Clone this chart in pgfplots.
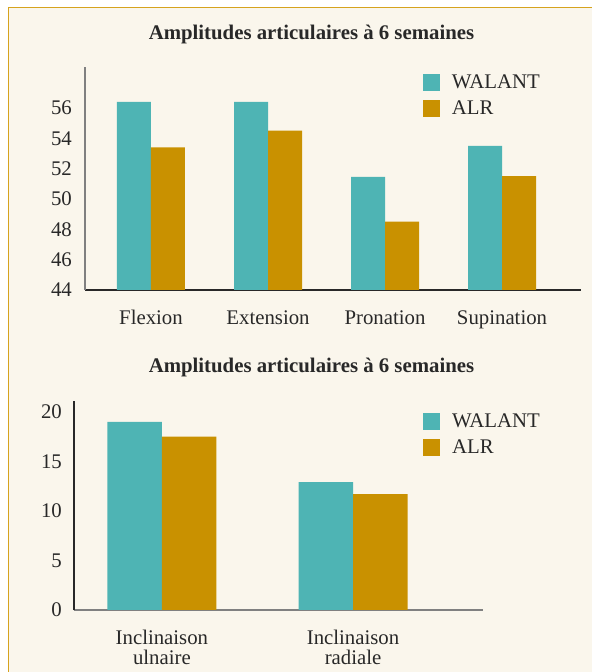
\documentclass[border=0pt]{standalone}
\usepackage{pgfplots}
\pgfplotsset{compat=1.18}
\usepackage{fontspec}
\setmainfont{Liberation Serif}
\definecolor{teal1}{RGB}{78,180,180}
\definecolor{gold1}{RGB}{201,145,0}
\definecolor{cream}{RGB}{250,246,236}
\definecolor{frame}{RGB}{214,163,30}
\definecolor{txt}{RGB}{40,40,40}
\newcommand{\f}{\fontsize{20.8bp}{20bp}\selectfont}
\pgfplotsset{
 sq/.style={legend image code/.code={\fill[##1] (0bp,-8.5bp) rectangle (17bp,8.5bp); \path (29bp,0bp);}},
 mystyle/.style={
  scale only axis,
  axis x line=bottom, axis y line=left,
  axis line style={-},
  ybar=0pt,
  every axis plot post/.append style={sq},
  major tick length=0pt,
  tick style={draw=none},
  xtick=data,
  /pgf/number format/assume math mode=true,
  tick label style={font=\f, text=txt},
  yticklabel style={inner sep=0pt, xshift=-13bp},
  legend style={draw=none, fill=none, font=\f, text=txt, inner sep=0pt, row sep=9bp, column sep=0pt,
    nodes={inner sep=0pt}, legend cell align=left},
 },
}
\begin{document}
\begin{tikzpicture}
\useasboundingbox (0,0) rectangle (592bp,672bp);
\fill[white] (0,0) rectangle (592bp,672bp);
\fill[cream] (8bp,-10bp) rectangle (610bp,665bp);
\draw[frame, line width=1.6bp] (8.5bp,-10bp) -- (8.5bp,664.5bp) -- (610bp,664.5bp);
\node[anchor=base, font=\f\bfseries, text=txt] at (311.5bp,632bp) {Amplitudes articulaires à 6 semaines};
\node[anchor=base, font=\f\bfseries, text=txt] at (311.5bp,299bp) {Amplitudes articulaires à 6 semaines};

\begin{axis}[mystyle, at={(85bp,382bp)}, anchor=south west,
  width=496bp, height=223bp,
  xmin=-0.564, xmax=3.675, ymin=44, ymax=58.7,
  ytick={44,46,...,56}, bar width=34bp,
  xticklabels={Flexion,Extension,Pronation,Supination},
  xticklabel style={anchor=base, inner sep=0pt, yshift=-34.5bp},
  x axis line style={draw=txt, line width=1.1bp},
  y axis line style={draw=gray, line width=1.1bp},
  legend style={at={(0.681,0.969)}, anchor=north west}]
\addplot[fill=teal1, draw=none] coordinates {(0,56.4) (1,56.4) (2,51.45) (3,53.5)};
\addplot[fill=gold1, draw=none] coordinates {(0,53.4) (1,54.5) (2,48.5) (3,51.5)};
\legend{WALANT,ALR}
\end{axis}

\begin{axis}[mystyle, at={(74bp,62bp)}, anchor=south west,
  width=409bp, height=209bp,
  xmin=-0.46, xmax=1.68, ymin=0, ymax=21.1,
  ytick={0,5,...,20}, bar width=54.5bp,
  yticklabel style={xshift=1bp},
  xticklabel style={anchor=north, inner sep=0pt, yshift=-20bp, align=center},
  xticklabels={{Inclinaison\\ulnaire},{Inclinaison\\radiale}},
  x axis line style={draw=gray, line width=1.1bp},
  y axis line style={draw=txt, line width=1.1bp},
  legend style={at={(0.853,0.943)}, anchor=north west}]
\addplot[fill=teal1, draw=none] coordinates {(0,19.0) (1,12.9)};
\addplot[fill=gold1, draw=none] coordinates {(0,17.5) (1,11.7)};
\legend{WALANT,ALR}
\end{axis}
\end{tikzpicture}
\end{document}
